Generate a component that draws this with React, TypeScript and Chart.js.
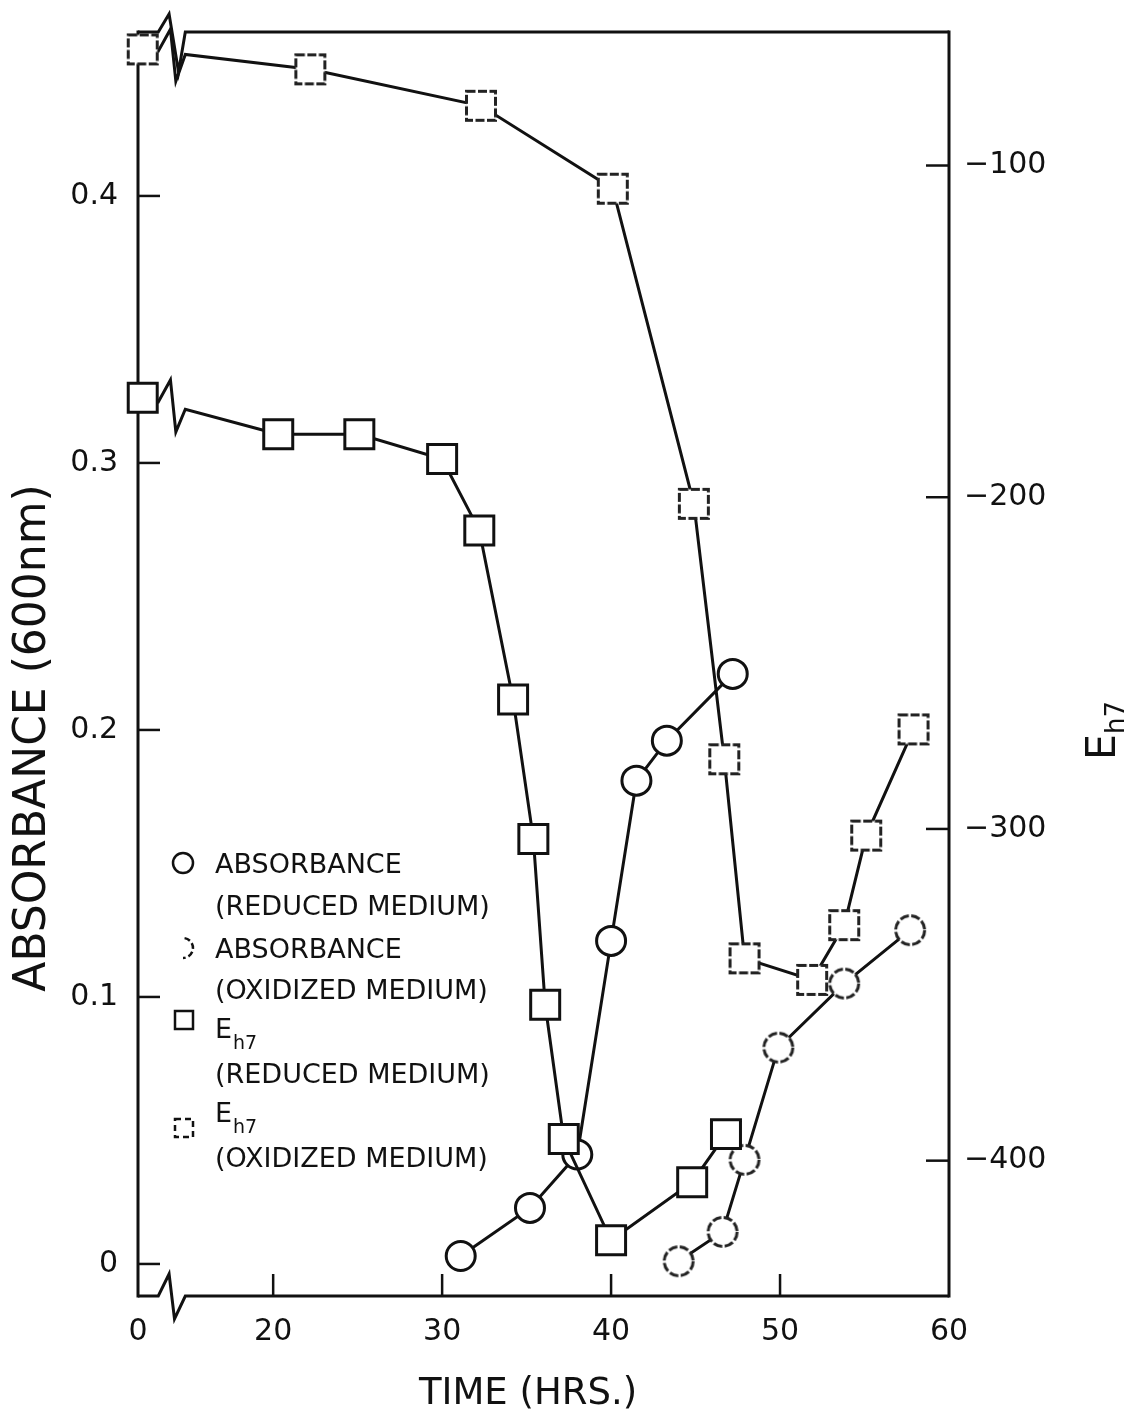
import React, { useEffect, useRef } from "react";
import { Chart, registerables } from "chart.js";

Chart.register(...registerables);

const FONT = "'DejaVu Sans', 'Liberation Sans', sans-serif";
const INK = "#111";

// The time axis is broken: time 0 is drawn near the position of 12 h.
const ZERO_AT = 12;
const ZERO_POINT_AT = 12.28;
const X_MIN = 12;
const X_MAX = 60;
const BREAK_A = 13.2;
const BREAK_B = 14.8;

const xTickValues = [0, 20, 30, 40, 50, 60];
const xTickLabels = ["0", "20", "30", "40", "50", "60"];
const absTickValues = [0, 0.1, 0.2, 0.3, 0.4];
const absTickLabels = ["0", "0.1", "0.2", "0.3", "0.4"];
const ehTickValues = [-400, -300, -200, -100];
const ehTickLabels = ["\u2212400", "\u2212300", "\u2212200", "\u2212100"];
const ABS_MIN = -0.012;
const ABS_MAX = 0.4614;
const EH_MIN = -440.8;
const EH_MAX = -59.75;

// Absorbance, reduced medium
const absRedTime = [31.1, 35.2, 38.0, 40.0, 41.5, 43.3, 47.2];
const absRedValue = [0.003, 0.021, 0.041, 0.121, 0.181, 0.196, 0.221];
// Absorbance, oxidized medium
const absOxTime = [44.0, 46.6, 47.9, 49.9, 53.8, 57.7];
const absOxValue = [0.001, 0.012, 0.039, 0.081, 0.105, 0.125];
// Eh7, reduced medium
const ehRedTime = [0, 20.3, 25.1, 30.0, 32.2, 34.2, 35.4, 36.1, 37.2, 40.0, 44.8, 46.8];
const ehRedValue = [-170, -181, -181, -188.5, -210, -261, -303, -353, -393.5, -424, -406.5, -392];
// Eh7, oxidized medium
const ehOxTime = [0, 22.2, 32.3, 40.1, 44.9, 46.7, 47.9, 51.9, 53.8, 55.1, 57.9];
const ehOxValue = [-65, -71, -82, -107, -202, -279, -339, -345.5, -329, -302, -270];

const legendLines = [
  "ABSORBANCE",
  "(REDUCED MEDIUM)",
  "ABSORBANCE",
  "(OXIDIZED MEDIUM)",
  "E",
  "(REDUCED MEDIUM)",
  "E",
  "(OXIDIZED MEDIUM)",
];

const toX = (t: number) => (t === 0 ? ZERO_POINT_AT : t);
const tickX = (t: number) => (t === 0 ? ZERO_AT : t);

function dashedSquare(side: number, lw: number) {
  const c = document.createElement("canvas");
  const s = Math.ceil(side + lw + 2);
  c.width = s;
  c.height = s;
  const g = c.getContext("2d")!;
  const o = (s - side) / 2;
  g.fillStyle = "#fff";
  g.fillRect(o, o, side, side);
  g.setLineDash([9, 2.5]);
  g.strokeStyle = "#222";
  g.lineWidth = lw;
  g.strokeRect(o, o, side, side);
  return c;
}

function dashedCircle(r: number, lw: number) {
  const c = document.createElement("canvas");
  const s = Math.ceil(2 * r + lw + 2);
  c.width = s;
  c.height = s;
  const g = c.getContext("2d")!;
  g.beginPath();
  g.arc(s / 2, s / 2, r, 0, Math.PI * 2);
  g.fillStyle = "#fff";
  g.fill();
  g.setLineDash([9, 2.5]);
  g.strokeStyle = "#222";
  g.lineWidth = lw;
  g.stroke();
  return c;
}

const decorPlugin = {
  id: "decor",
  beforeDatasetsDraw(chart: any) {
    const { ctx, chartArea: a, scales } = chart;
    const x = scales.x;
    const yA = scales.yA;
    const yE = scales.yE;
    const b0 = x.getPixelForValue(BREAK_A);
    const b1 = x.getPixelForValue(BREAK_B);
    const bw = b1 - b0;
    ctx.save();
    ctx.strokeStyle = INK;
    ctx.lineWidth = 3;
    ctx.lineJoin = "miter";
    ctx.lineCap = "butt";
    const seg = (x1: number, y1: number, x2: number, y2: number) => {
      ctx.beginPath();
      ctx.moveTo(x1, y1);
      ctx.lineTo(x2, y2);
      ctx.stroke();
    };
    seg(a.left, a.top - 1.5, a.left, a.bottom + 1.5);
    seg(a.right, a.top - 1.5, a.right, a.bottom + 1.5);
    // bottom axis with break
    ctx.beginPath();
    ctx.moveTo(a.left, a.bottom);
    ctx.lineTo(b0, a.bottom);
    ctx.lineTo(b0 + bw * 0.4, a.bottom - 22);
    ctx.lineTo(b0 + bw * 0.6, a.bottom + 23);
    ctx.lineTo(b1, a.bottom);
    ctx.lineTo(a.right, a.bottom);
    ctx.stroke();
    // top axis with break
    ctx.beginPath();
    ctx.moveTo(a.left, a.top);
    ctx.lineTo(b0, a.top);
    ctx.lineTo(b0 + bw * 0.4, a.top - 18);
    ctx.lineTo(b0 + bw * 0.75, a.top + 40);
    ctx.lineTo(b1, a.top);
    ctx.lineTo(a.right, a.top);
    ctx.stroke();
    // inward ticks
    ctx.lineWidth = 2.5;
    absTickValues.forEach((v) => {
      const py = yA.getPixelForValue(v);
      seg(a.left, py, a.left + 22, py);
    });
    ehTickValues.forEach((v) => {
      const py = yE.getPixelForValue(v);
      seg(a.right - 23, py, a.right, py);
    });
    xTickValues.forEach((v) => {
      if (v === 0 || v === X_MAX) return;
      const px = x.getPixelForValue(v);
      seg(px, a.bottom, px, a.bottom - 22);
    });
    // broken first segments of the Eh series
    ctx.lineWidth = 3;
    [0, 1].forEach((i) => {
      const meta = chart.getDatasetMeta(i);
      const p0 = meta.data[0];
      const p1 = meta.data[1];
      if (!p0 || !p1) return;
      const yAt = (px: number) => p0.y + ((px - p0.x) / (p1.x - p0.x)) * (p1.y - p0.y);
      ctx.beginPath();
      ctx.moveTo(p0.x, p0.y);
      ctx.lineTo(b0, yAt(b0));
      ctx.lineTo(b0 + bw * 0.45, yAt(b0) - 22);
      ctx.lineTo(b0 + bw * 0.65, yAt(b0) + 30);
      ctx.lineTo(b1, yAt(b1));
      ctx.lineTo(p1.x, p1.y);
      ctx.stroke();
    });
    ctx.restore();
  },
  afterDraw(chart: any) {
    const { ctx } = chart;
    ctx.save();
    ctx.fillStyle = INK;
    ctx.strokeStyle = INK;
    // axis titles
    ctx.font = `37px ${FONT}`;
    ctx.textAlign = "center";
    ctx.textBaseline = "middle";
    ctx.fillText("TIME (HRS.)", 528, 1394);

    ctx.save();
    ctx.translate(34, 738);
    ctx.rotate(-Math.PI / 2);
    ctx.font = `44px ${FONT}`;
    ctx.fillText("ABSORBANCE (600nm)", 0, 0);
    ctx.restore();

    ctx.save();
    ctx.translate(1100, 730);
    ctx.rotate(-Math.PI / 2);
    ctx.textAlign = "left";
    ctx.textBaseline = "alphabetic";
    ctx.font = `41px ${FONT}`;
    ctx.fillText("E", -30, 15);
    ctx.font = `26px ${FONT}`;
    ctx.fillText("h7", -4, 24);
    ctx.restore();

    // legend
    const lx = 215;
    const ys = [863, 905, 948, 989, 1028, 1073, 1112, 1157];
    ctx.textAlign = "left";
    ctx.textBaseline = "alphabetic";
    legendLines.forEach((t, i) => {
      ctx.font = `27px ${FONT}`;
      ctx.fillText(t, lx, ys[i] + 10);
      if (t === "E") {
        const w = ctx.measureText("E").width;
        ctx.font = `19px ${FONT}`;
        ctx.fillText("h7", lx + w + 1, ys[i] + 21);
      }
    });
    ctx.lineWidth = 2.5;
    ctx.beginPath();
    ctx.arc(183, 863, 10, 0, Math.PI * 2);
    ctx.stroke();
    ctx.beginPath();
    ctx.setLineDash([6, 3]);
    ctx.arc(183, 948, 10, -Math.PI * 0.45, Math.PI * 0.5);
    ctx.stroke();
    ctx.setLineDash([]);
    ctx.strokeRect(175, 1011, 18, 18);
    ctx.setLineDash([6, 4]);
    ctx.strokeRect(175, 1119, 18, 18);
    ctx.restore();
  },
};

const noVerticalPad = (s: any, w: number) => {
  s.width = w;
  s.paddingTop = 0;
  s.paddingBottom = 0;
};

export default function App() {
  const ref = useRef<HTMLCanvasElement | null>(null);
  useEffect(() => {
    if (!ref.current) return;
    const oxSquare = dashedSquare(29, 3);
    const oxCircle = dashedCircle(14.5, 3);
    const chart = new Chart(ref.current, {
      type: "line",
      data: {
        datasets: [
          {
            label: "Eh7 (reduced medium)",
            data: ehRedTime.map((t, i) => ({ x: toX(t), y: ehRedValue[i] })),
            yAxisID: "yE",
            clip: false,
            borderColor: INK,
            borderWidth: 3,
            pointStyle: "rect",
            pointRadius: 20.5,
            pointBorderWidth: 3,
            pointBackgroundColor: "#fff",
            pointBorderColor: INK,
            segment: { borderColor: (c: any) => (c.p0DataIndex === 0 ? "rgba(0,0,0,0)" : INK) },
          },
          {
            label: "Eh7 (oxidized medium)",
            data: ehOxTime.map((t, i) => ({ x: toX(t), y: ehOxValue[i] })),
            yAxisID: "yE",
            clip: false,
            borderColor: INK,
            borderWidth: 3,
            pointStyle: oxSquare,
            pointRadius: 17,
            segment: { borderColor: (c: any) => (c.p0DataIndex === 0 ? "rgba(0,0,0,0)" : INK) },
          },
          {
            label: "Absorbance (reduced medium)",
            data: absRedTime.map((t, i) => ({ x: toX(t), y: absRedValue[i] })),
            yAxisID: "yA",
            clip: false,
            borderColor: INK,
            borderWidth: 3,
            pointStyle: "circle",
            pointRadius: 14.5,
            pointBorderWidth: 3,
            pointBackgroundColor: "#fff",
            pointBorderColor: INK,
          },
          {
            label: "Absorbance (oxidized medium)",
            data: absOxTime.map((t, i) => ({ x: toX(t), y: absOxValue[i] })),
            yAxisID: "yA",
            clip: false,
            borderColor: INK,
            borderWidth: 3,
            pointStyle: oxCircle,
            pointRadius: 16,
          },
        ],
      },
      options: {
        responsive: false,
        animation: false,
        events: [],
        layout: { padding: { top: 32, left: 0, right: 0, bottom: 0 } },
        plugins: { legend: { display: false }, tooltip: { enabled: false }, title: { display: false } },
        scales: {
          x: {
            type: "linear",
            position: "bottom",
            min: X_MIN,
            max: X_MAX,
            afterBuildTicks: (s: any) => {
              s.ticks = xTickValues.map((v) => ({ value: tickX(v) }));
            },
            afterFit: (s: any) => {
              s.height = 120;
              s.paddingLeft = 0;
              s.paddingRight = 0;
            },
            grid: { display: false, drawTicks: false },
            border: { display: false },
            ticks: {
              padding: 18,
              color: INK,
              autoSkip: false,
              maxRotation: 0,
              font: { family: FONT, size: 30 },
              callback: (_v: any, i: number) => xTickLabels[i],
            },
          },
          yA: {
            type: "linear",
            position: "left",
            min: ABS_MIN,
            max: ABS_MAX,
            afterBuildTicks: (s: any) => {
              s.ticks = absTickValues.map((v) => ({ value: v }));
            },
            afterFit: (s: any) => noVerticalPad(s, 138),
            grid: { display: false, drawTicks: false },
            border: { display: false },
            ticks: {
              padding: 20,
              color: INK,
              font: { family: FONT, size: 30 },
              callback: (_v: any, i: number) => absTickLabels[i],
            },
          },
          yE: {
            type: "linear",
            position: "right",
            min: EH_MIN,
            max: EH_MAX,
            afterBuildTicks: (s: any) => {
              s.ticks = ehTickValues.map((v) => ({ value: v }));
            },
            afterFit: (s: any) => noVerticalPad(s, 176),
            grid: { display: false, drawTicks: false },
            border: { display: false },
            ticks: {
              padding: 15,
              color: INK,
              font: { family: FONT, size: 30 },
              callback: (_v: any, i: number) => ehTickLabels[i],
            },
          },
        },
      },
      plugins: [decorPlugin],
    } as any);
    return () => chart.destroy();
  }, []);

  return (
    <div style={{ position: "absolute", left: 0, top: 0, width: 1125, height: 1416, background: "#fff" }}>
      <canvas ref={ref} width={1125} height={1416} style={{ display: "block" }} />
    </div>
  );
}
